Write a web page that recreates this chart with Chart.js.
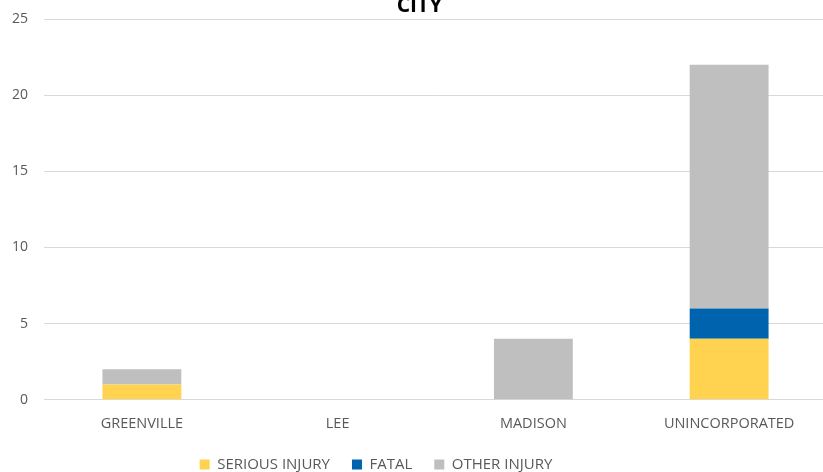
<!DOCTYPE html>
<html>
<head>
<meta charset="utf-8">
<script src="https://cdn.jsdelivr.net/npm/chart.js@4"></script>
<style>
  html, body { margin: 0; padding: 0; background: #fff; }
  #wrap { position: relative; width: 823px; height: 472px; overflow: hidden; }
  /* the original picture is cropped: title cut at the top, plot running past the right edge */
  #box { position: absolute; left: 0; top: -16px; width: 832px; height: 498px; }
</style>
</head>
<body>
<div id="wrap"><div id="box"><canvas id="chart"></canvas></div></div>
<script>
const cities = ['GREENVILLE', 'LEE', 'MADISON', 'UNINCORPORATED'];
const seriousInjury = [1, 0, 0, 4];
const fatal = [0, 0, 0, 2];
const otherInjury = [1, 0, 4, 16];
const yTicks = [0, 5, 10, 15, 20, 25];

const font = "'Open Sans', 'Noto Sans', sans-serif";
const legendCenter = 376;

// move the legend so it sits where the original one does
const shiftLegend = {
  id: 'shiftLegend',
  afterLayout(chart) {
    const lg = chart.legend;
    const dx = legendCenter - (lg.left + lg.right) / 2;
    lg.left += dx;
    lg.right += dx;
  }
};

function chartIt() {
  const ctx = document.getElementById('chart');

  new Chart(ctx, {
    type: 'bar',
    data: {
      labels: cities,
      datasets: [
        { label: 'SERIOUS INJURY', data: seriousInjury, backgroundColor: '#ffd34f' },
        { label: 'FATAL', data: fatal, backgroundColor: '#0063ad' },
        { label: 'OTHER INJURY', data: otherInjury, backgroundColor: '#bfbfbf' }
      ]
    },
    plugins: [shiftLegend],
    options: {
      animation: false,
      maintainAspectRatio: false,
      layout: { padding: { left: 12, right: 5, bottom: 0 } },
      datasets: { bar: { barPercentage: 1, categoryPercentage: 0.403 } },
      plugins: {
        title: {
          display: true,
          text: 'CITY',
          color: '#000',
          font: { family: font, size: 21, weight: 'bold' },
          padding: { top: 9.5, bottom: 0.5 }
        },
        legend: {
          position: 'bottom',
          labels: {
            color: '#595959',
            font: { family: font, size: 15 },
            boxWidth: 10,
            boxHeight: 10,
            padding: 22
          }
        },
        tooltip: { enabled: false }
      },
      scales: {
        x: {
          stacked: true,
          grid: { display: false, drawTicks: false },
          border: { color: '#d9d9d9' },
          ticks: { color: '#595959', font: { family: font, size: 14.5 }, padding: 15.3 },
          afterFit: axis => { axis.height -= 12.7; }
        },
        y: {
          stacked: true,
          min: 0,
          max: 25,
          afterBuildTicks: axis => { axis.ticks = yTicks.map(v => ({ value: v })); },
          afterFit: axis => { axis.width = 32; },
          grid: { color: '#d9d9d9', drawTicks: false },
          border: { display: false },
          ticks: { color: '#595959', font: { family: font, size: 14 }, padding: 16 }
        }
      }
    }
  });
}

chartIt();
</script>
</body>
</html>
